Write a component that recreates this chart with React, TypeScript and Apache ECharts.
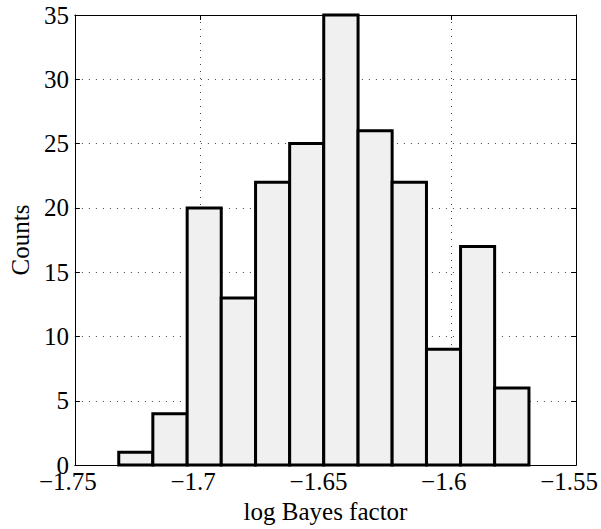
import React, { useEffect, useRef } from "react";
import * as echarts from "echarts";

const binEdges = [
  -1.7325, -1.7189, -1.7052, -1.6916, -1.6779, -1.6643, -1.6507,
  -1.637, -1.6234, -1.6097, -1.5961, -1.5825, -1.5688,
];
const counts = [1, 4, 20, 13, 22, 25, 35, 26, 22, 9, 17, 6];
const xAxisName = "log Bayes factor";
const yAxisName = "Counts";

const FONT = "Liberation Serif, Times New Roman, serif";
const FS = 25;

const fmtX = (v: number) => {
  const r = Math.round(v * 100) / 100;
  const s = String(Math.abs(r));
  return (r < 0 ? "\u2212" : "") + s;
};

export default function App() {
  const ref = useRef<HTMLDivElement>(null);
  useEffect(() => {
    document.body.style.margin = "0";
    if (!ref.current) return;
    const chart = echarts.init(ref.current, undefined, { renderer: "svg" });
    const data = counts.map((c, i) => [binEdges[i], binEdges[i + 1], c]);
    const dotted = { color: "#444", width: 1, type: [1, 6] as any };
    chart.setOption({
      animation: false,
      backgroundColor: "#fff",
      grid: { left: 70, right: 24, top: 15, bottom: 59, containLabel: false },
      xAxis: [
        {
          type: "value",
          min: -1.75,
          max: -1.55,
          interval: 0.05,
          position: "bottom",
          name: xAxisName,
          nameLocation: "middle",
          nameGap: 30,
          nameTextStyle: { fontFamily: FONT, fontSize: FS, color: "#000" },
          axisLine: { show: true, onZero: false, lineStyle: { color: "#000", width: 1 } },
          axisTick: { show: true, inside: true, length: 5, lineStyle: { color: "#000" } },
          axisLabel: {
            fontFamily: FONT,
            fontSize: FS,
            color: "#000",
            margin: 4,
            padding: [0, 14, 0, 0],
            formatter: (v: number) => fmtX(v),
            showMinLabel: true,
            showMaxLabel: true,
          },
          splitLine: { show: true, lineStyle: dotted },
        },
        {
          type: "value",
          min: -1.75,
          max: -1.55,
          interval: 0.05,
          position: "top",
          axisLine: { show: true, onZero: false, lineStyle: { color: "#000", width: 1 } },
          axisTick: { show: true, inside: true, length: 5, lineStyle: { color: "#000" } },
          axisLabel: { show: false },
          splitLine: { show: false },
        },
      ],
      yAxis: [
        {
          type: "value",
          min: 0,
          max: 35,
          interval: 5,
          position: "left",
          name: yAxisName,
          nameLocation: "middle",
          nameGap: 39,
          nameTextStyle: { fontFamily: FONT, fontSize: FS, color: "#000" },
          axisLine: { show: true, onZero: false, lineStyle: { color: "#000", width: 1 } },
          axisTick: { show: true, inside: true, length: 5, lineStyle: { color: "#000" } },
          axisLabel: { fontFamily: FONT, fontSize: FS, color: "#000", margin: 6 },
          splitLine: { show: true, lineStyle: dotted },
        },
        {
          type: "value",
          min: 0,
          max: 35,
          interval: 5,
          position: "right",
          axisLine: { show: true, onZero: false, lineStyle: { color: "#000", width: 1 } },
          axisTick: { show: true, inside: true, length: 5, lineStyle: { color: "#000" } },
          axisLabel: { show: false },
          splitLine: { show: false },
        },
      ],
      series: [
        {
          type: "custom",
          xAxisIndex: 0,
          yAxisIndex: 0,
          encode: { x: [0, 1], y: 2 },
          data,
          renderItem: (params: any, api: any) => {
            const p0 = api.coord([api.value(0), 0]);
            const p1 = api.coord([api.value(1), api.value(2)]);
            return {
              type: "rect",
              shape: { x: p0[0], y: p1[1], width: p1[0] - p0[0], height: p0[1] - p1[1] },
              style: { fill: "#f0f0f0", stroke: "#000", lineWidth: 3 },
            };
          },
        },
      ],
    });
    return () => chart.dispose();
  }, []);
  return <div ref={ref} style={{ width: 601, height: 529 }} />;
}
